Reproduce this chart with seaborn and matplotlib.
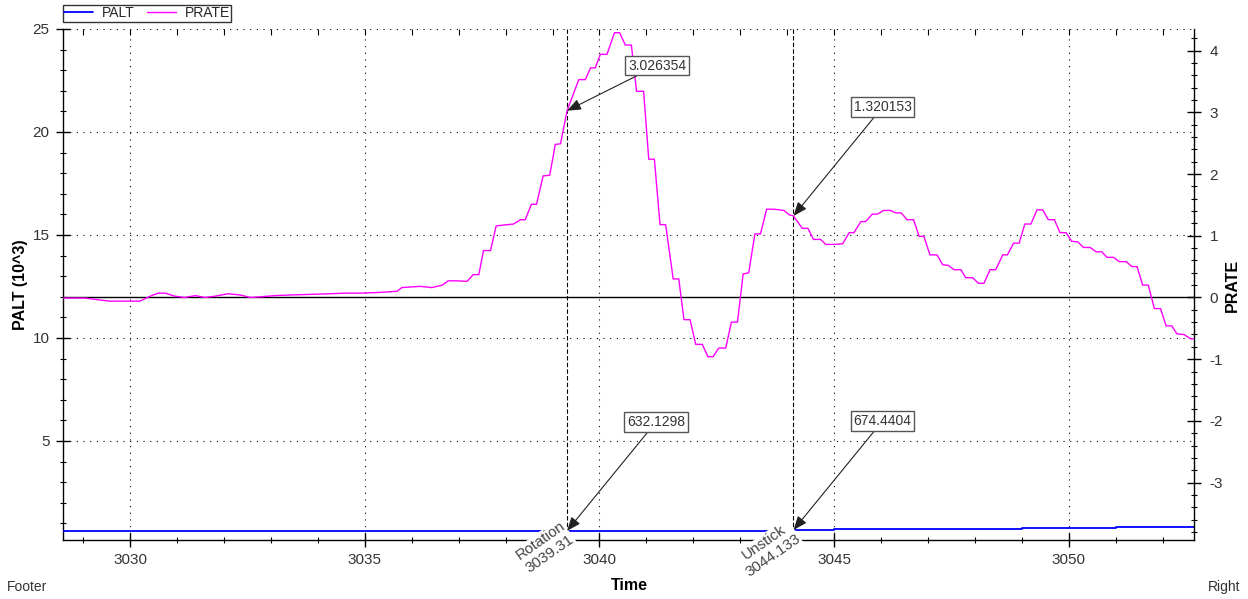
import matplotlib
matplotlib.use("Agg")
import matplotlib.pyplot as plt
from matplotlib.ticker import MultipleLocator
import seaborn as sns

# Pressure-altitude rate (PRATE) samples: time [s] and rate
prate_time = [
    3028.58, 3029.04, 3029.36, 3029.57, 3030.21, 3030.43, 3030.60, 3030.75, 3030.96,
    3031.17, 3031.39, 3031.60, 3031.81, 3032.09, 3032.35, 3032.56, 3032.77, 3033.09,
    3033.41, 3033.84, 3034.26, 3034.58, 3034.90, 3035.27, 3035.69, 3035.79, 3036.18,
    3036.43, 3036.65, 3036.78, 3036.97, 3037.18, 3037.31, 3037.43, 3037.53, 3037.68,
    3037.80, 3038.17, 3038.32, 3038.42, 3038.55, 3038.66, 3038.80, 3038.94, 3039.06,
    3039.17, 3039.31, 3039.56, 3039.70, 3039.81, 3039.91, 3040.02, 3040.16, 3040.32,
    3040.43, 3040.55, 3040.68, 3040.79, 3040.94, 3041.05, 3041.17, 3041.29, 3041.41,
    3041.57, 3041.69, 3041.80, 3041.93, 3042.05, 3042.19, 3042.31, 3042.42, 3042.54,
    3042.69, 3042.81, 3042.94, 3043.06, 3043.18, 3043.31, 3043.43, 3043.56, 3043.72,
    3043.93, 3044.04, 3044.133, 3044.32, 3044.44, 3044.56, 3044.71, 3044.82, 3045.00,
    3045.18, 3045.32, 3045.42, 3045.57, 3045.67, 3045.81, 3045.92, 3046.05, 3046.20,
    3046.31, 3046.43, 3046.55, 3046.69, 3046.81, 3046.91, 3047.04, 3047.19, 3047.31,
    3047.43, 3047.55, 3047.70, 3047.80, 3047.95, 3048.07, 3048.19, 3048.32, 3048.44,
    3048.59, 3048.69, 3048.82, 3048.94, 3049.06, 3049.19, 3049.32, 3049.44, 3049.56,
    3049.69, 3049.81, 3049.94, 3050.06, 3050.19, 3050.31, 3050.45, 3050.58, 3050.70,
    3050.81, 3050.95, 3051.07, 3051.22, 3051.34, 3051.45, 3051.57, 3051.69, 3051.82,
    3051.95, 3052.07, 3052.19, 3052.30, 3052.45, 3052.59, 3052.67,
]
prate_value = [
    -0.01, -0.01, -0.04, -0.06, -0.06, 0.02, 0.07, 0.07, 0.02,
    0.00, 0.03, 0.00, 0.02, 0.06, 0.04, 0.00, 0.01, 0.03,
    0.04, 0.05, 0.06, 0.07, 0.07, 0.08, 0.10, 0.16, 0.18,
    0.16, 0.20, 0.27, 0.27, 0.26, 0.37, 0.37, 0.76, 0.76,
    1.16, 1.19, 1.26, 1.26, 1.51, 1.51, 1.97, 1.98, 2.48,
    2.49, 3.026354, 3.53, 3.53, 3.72, 3.72, 3.94, 3.94, 4.29,
    4.29, 4.09, 4.09, 3.34, 3.34, 2.24, 2.24, 1.18, 1.18,
    0.30, 0.30, -0.36, -0.36, -0.76, -0.76, -0.96, -0.96, -0.82,
    -0.82, -0.40, -0.40, 0.38, 0.40, 1.03, 1.03, 1.43, 1.43,
    1.41, 1.34, 1.320153, 1.12, 1.12, 0.94, 0.94, 0.86, 0.86,
    0.87, 1.05, 1.05, 1.23, 1.23, 1.35, 1.35, 1.41, 1.41,
    1.37, 1.37, 1.26, 1.26, 0.99, 0.99, 0.69, 0.69, 0.53,
    0.52, 0.45, 0.45, 0.32, 0.32, 0.23, 0.23, 0.45, 0.45,
    0.69, 0.69, 0.88, 0.88, 1.19, 1.19, 1.42, 1.42, 1.26,
    1.26, 1.05, 1.05, 0.91, 0.90, 0.81, 0.81, 0.74, 0.74,
    0.65, 0.65, 0.58, 0.58, 0.50, 0.50, 0.20, 0.20, -0.18,
    -0.18, -0.46, -0.46, -0.59, -0.60, -0.67, -0.67,
]

# Pressure altitude (PALT) samples: time [s] and altitude [ft]
palt_time = [3028.58, 3039.31, 3044.133, 3045.0, 3049.0, 3051.0, 3052.67]
palt_ft = [632.0, 632.1298, 674.4404, 700.0, 750.0, 830.0, 830.0]

# Take-off events
event_name = ["Rotation", "Unstick"]
event_time = [3039.31, 3044.133]
event_prate = [3.026354, 1.320153]
event_palt = [632.1298, 674.4404]

sns.set_theme(style="white")
plt.rcParams["font.family"] = ["Liberation Sans Narrow", "Liberation Sans", "DejaVu Sans"]
plt.rcParams["axes.unicode_minus"] = False

W, H = 1248, 599
fig = plt.figure(figsize=(W / 100, H / 100), dpi=100)
x0, x1, y0, y1 = 63.3, 1194.3, 29, 540
ax = fig.add_axes([x0 / W, 1 - y1 / H, (x1 - x0) / W, (y1 - y0) / H])
ax2 = ax.twinx()

palt_k = [v / 1000.0 for v in palt_ft]
sns.lineplot(x=palt_time, y=palt_k, ax=ax, color="#0000ff", lw=1.3,
             drawstyle="steps-post", label="PALT", legend=False, zorder=3)
sns.lineplot(x=prate_time, y=prate_value, ax=ax2, color="#ff00ff", lw=1.0,
             label="PRATE", legend=False, zorder=3)
ax2.axhline(0, color="black", lw=1.0, zorder=2)

ax.set_xlim(3028.58, 3052.67)
ax.set_ylim(0.19, 25)
ax2.set_ylim(-3.93, 4.35)

# dotted grid on the major ticks
ax.grid(True, which="major", axis="both", color="black", lw=0.8, linestyle=(0, (1, 5)))
ax.set_axisbelow(False)

for t in event_time:
    ax.axvline(t, color="black", lw=0.8, linestyle=(0, (4, 2)), zorder=2)

ax.xaxis.set_major_locator(MultipleLocator(5))
ax.xaxis.set_minor_locator(MultipleLocator(1))
ax.yaxis.set_major_locator(MultipleLocator(5))
ax.yaxis.set_minor_locator(MultipleLocator(1))
ax2.yaxis.set_major_locator(MultipleLocator(1))
ax2.yaxis.set_minor_locator(MultipleLocator(0.2))

tick_txt = "#333333"
for a in (ax, ax2):
    a.tick_params(which="major", direction="inout", length=10, width=1,
                  color="black", labelcolor=tick_txt, labelsize=11)
    a.tick_params(which="minor", direction="inout", length=5, width=0.8, color="black")
ax.tick_params(axis="x", pad=4, bottom=True, top=False, which="both")
ax.tick_params(axis="y", pad=5, left=True, right=False, which="both")
ax2.tick_params(axis="y", pad=6, right=True, left=False, which="both")

# short inward time ticks along the top edge
ax2.xaxis.set_visible(True)
ax2.tick_params(axis="x", which="both", bottom=False, top=True, labelbottom=False,
                labeltop=False, direction="in", length=4, width=0.8, color="black")

for side, sp in ax.spines.items():
    sp.set_color("black")
    sp.set_linewidth(1.0)
    sp.set_visible(side in ("left", "bottom"))
for side, sp in ax2.spines.items():
    sp.set_color("black")
    sp.set_linewidth(1.0)
    sp.set_visible(side == "right")

ax.set_xlabel("")
ax.set_ylabel("")
ax2.set_xlabel("")
ax2.set_ylabel("")

# value call-outs
box = dict(boxstyle="square,pad=0.2", fc="white", ec="#555555", lw=1)
arrow = dict(arrowstyle="-|>,head_length=0.7,head_width=0.28", color="#222222",
             lw=0.8, mutation_scale=12, shrinkA=0, shrinkB=0)
prate_offsets = [(90, 45), (89, 109)]
for t, v, off in zip(event_time, event_prate, prate_offsets):
    ax2.annotate(f"{v:.6f}", xy=(t, v), xytext=off, textcoords="offset pixels",
                 ha="center", va="center", fontsize=10, color="#333333",
                 bbox=box, arrowprops=arrow, zorder=6)
for t, v in zip(event_time, event_palt):
    ax.annotate(f"{v:.4f}", xy=(t, v / 1000.0), xytext=(89, 109), textcoords="offset pixels",
                ha="center", va="center", fontsize=10, color="#333333",
                bbox=box, arrowprops=arrow, zorder=6)

# event markers under the time axis
for name, t in zip(event_name, event_time):
    ax.annotate(f"{name}\n{t}", xy=(t, 0), xycoords=ax.get_xaxis_transform(),
                xytext=(1, 9), textcoords="offset pixels",
                rotation=35, rotation_mode="anchor", ha="right", va="center",
                multialignment="center", fontsize=11, color="#444444",
                bbox=dict(boxstyle="square,pad=0.05", fc="white", ec="none"),
                annotation_clip=False, zorder=5)

fig.text(629 / W, 1 - 585 / H, "Time", ha="center", va="center",
         fontsize=11.5, fontweight="bold", color="black")
fig.text(21 / W, 1 - 285 / H, "PALT (10^3)", ha="center", va="center",
         rotation=90, fontsize=11.5, fontweight="bold", color="black")
fig.text(1232 / W, 1 - 285 / H, "PRATE", ha="center", va="center",
         rotation=90, fontsize=11.5, fontweight="bold", color="black")
fig.text(7 / W, 1 - 587 / H, "Footer", ha="left", va="center", fontsize=10, color="#333333")
fig.text(1240 / W, 1 - 587 / H, "Right", ha="right", va="center", fontsize=10, color="#333333")

h1, l1 = ax.get_legend_handles_labels()
h2, l2 = ax2.get_legend_handles_labels()
leg = fig.legend(h1 + h2, l1 + l2, loc="upper left", bbox_to_anchor=(62.5 / W, 1 - 4.5 / H),
                 ncol=2, frameon=True, fancybox=False, edgecolor="#333333", framealpha=1,
                 fontsize=10, borderpad=0.12, handlelength=2.1, handletextpad=0.6,
                 columnspacing=0.9, borderaxespad=0)
leg.get_frame().set_linewidth(1.0)

fig.savefig("out.png", dpi=100)
